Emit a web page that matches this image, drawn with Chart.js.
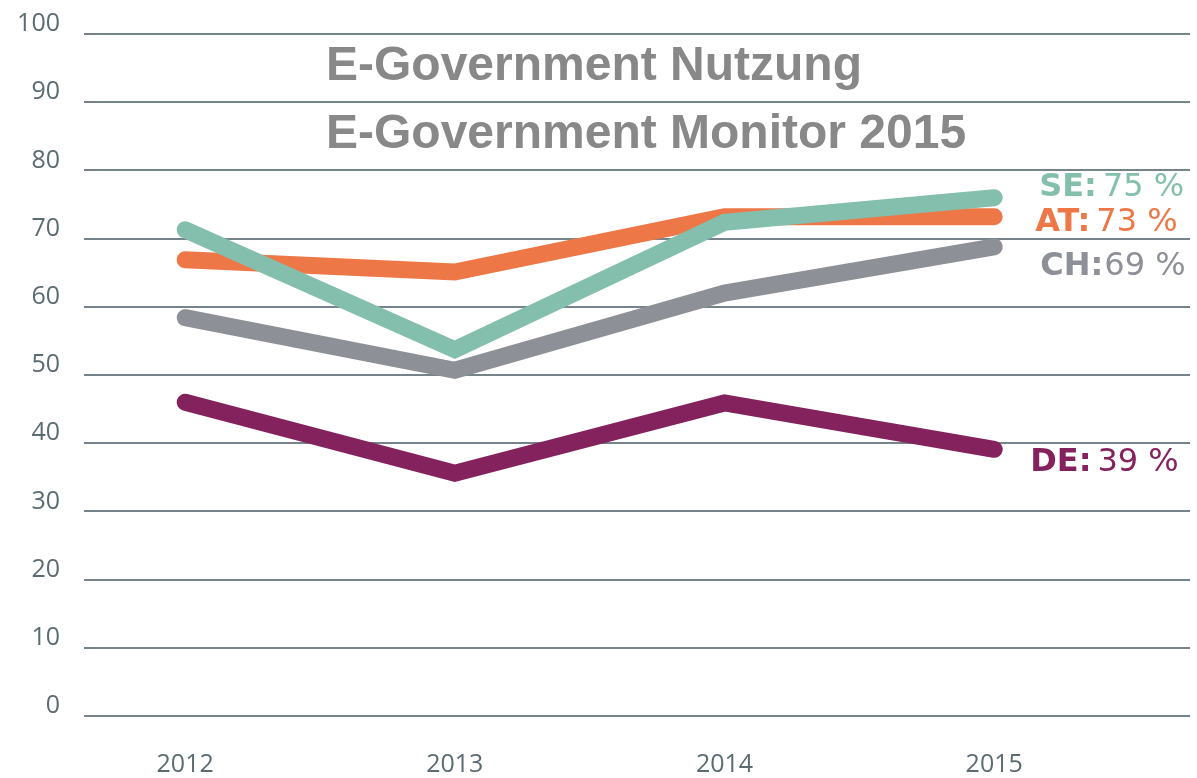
<!DOCTYPE html>
<html>
<head>
<meta charset="utf-8">
<script src="https://cdn.jsdelivr.net/npm/chart.js@4/dist/chart.umd.min.js"></script>
<style>
    html, body { margin: 0; padding: 0; background: #fff; }
    #wrap { width: 1197px; height: 778px; }
</style>
</head>
<body>
<div id="wrap"><canvas id="egovChart" width="1197" height="778"></canvas></div>
<script>
// data
const years = [2012, 2013, 2014, 2015];
const yTicks = [0, 10, 20, 30, 40, 50, 60, 70, 80, 90, 100];
const seValues = [71.3, 53.7, 72.4, 76.0];
const atValues = [66.9, 65.1, 73.2, 73.2];
const chValues = [58.4, 50.7, 62.0, 68.8];
const deValues = [46.0, 35.6, 45.9, 39.1];
const countries = ['SE', 'AT', 'CH', 'DE'];
const endLabels = ['75 %', '73 %', '69 %', '39 %'];
const titleLines = ['E-Government Nutzung', 'E-Government Monitor 2015'];

const colors = {
    SE: '#84bfad',
    AT: '#ee7748',
    CH: '#8e9097',
    DE: '#84225e'
};

// label placement next to the last point (offsets in px)
const labelOffsets = {
    SE: { dx: 45, dy: -10, gap: 6 },
    AT: { dx: 41, dy: 6, gap: 6 },
    CH: { dx: 46, dy: 20, gap: 1 },
    DE: { dx: 36, dy: 13, gap: 6 }
};

function series(name, values) {
    return {
        label: name,
        data: values.map(function (v, i) { return { x: years[i], y: v }; }),
        borderColor: colors[name],
        backgroundColor: colors[name],
        borderWidth: 17,
        borderCapStyle: 'round',
        borderJoinStyle: 'miter',
        pointRadius: 0,
        pointHoverRadius: 0,
        tension: 0,
        fill: false
    };
}

// title + end labels
const textPlugin = {
    id: 'textPlugin',
    afterDatasetsDraw: function (chart) {
        const ctx = chart.ctx;
        ctx.save();
        ctx.fillStyle = '#888888';
        ctx.font = 'bold 48px "Liberation Sans", Arial, sans-serif';
        ctx.textBaseline = 'alphabetic';
        ctx.textAlign = 'left';
        ctx.fillText(titleLines[0], 326, 80);
        ctx.fillText(titleLines[1], 326, 148);

        chart.data.datasets.forEach(function (ds, i) {
            const meta = chart.getDatasetMeta(i);
            const last = meta.data[meta.data.length - 1];
            const name = countries[i];
            const off = labelOffsets[name];
            const x = last.x + off.dx;
            const y = last.y + off.dy;
            ctx.fillStyle = colors[name];
            ctx.textBaseline = 'middle';
            ctx.font = 'bold 32px "DejaVu Sans", sans-serif';
            const prefix = name + ':';
            ctx.fillText(prefix, x, y);
            const w = ctx.measureText(prefix).width;
            ctx.font = '32px "DejaVu Sans", sans-serif';
            ctx.fillText(endLabels[i], x + w + off.gap, y);
        });
        ctx.restore();
    }
};

const ctx = document.getElementById('egovChart');
const egovChart = new Chart(ctx, {
    type: 'line',
    data: {
        datasets: [
            series('SE', seValues),
            series('AT', atValues),
            series('CH', chValues),
            series('DE', deValues)
        ]
    },
    options: {
        responsive: false,
        animation: false,
        layout: {
            padding: { top: 34, right: 7, left: 0, bottom: 0 }
        },
        plugins: {
            legend: { display: false },
            tooltip: { enabled: false }
        },
        scales: {
            x: {
                type: 'linear',
                min: 2011.625,
                max: 2015.726,
                afterBuildTicks: function (scale) {
                    scale.ticks = years.map(function (v) { return { value: v }; });
                },
                afterFit: function (scale) {
                    scale.height = 62;
                    scale.paddingLeft = 0;
                    scale.paddingRight = 0;
                },
                grid: { display: false },
                border: { display: false },
                ticks: {
                    padding: 26,
                    color: '#5c6b71',
                    font: { family: '"Open Sans", sans-serif', size: 25, weight: '400' },
                    callback: function (v) { return String(v); }
                }
            },
            y: {
                min: 0,
                max: 100,
                afterBuildTicks: function (scale) {
                    scale.ticks = yTicks.map(function (v) { return { value: v }; });
                },
                afterFit: function (scale) {
                    scale.width = 84;
                    scale.paddingTop = 0;
                    scale.paddingBottom = 0;
                },
                grid: {
                    color: '#76838a',
                    lineWidth: 2,
                    drawTicks: false
                },
                border: { display: false },
                ticks: {
                    padding: 24,
                    labelOffset: -10,
                    color: '#5c6b71',
                    font: { family: '"Open Sans", sans-serif', size: 25, weight: '400' }
                }
            }
        }
    },
    plugins: [textPlugin]
});
</script>
</body>
</html>
